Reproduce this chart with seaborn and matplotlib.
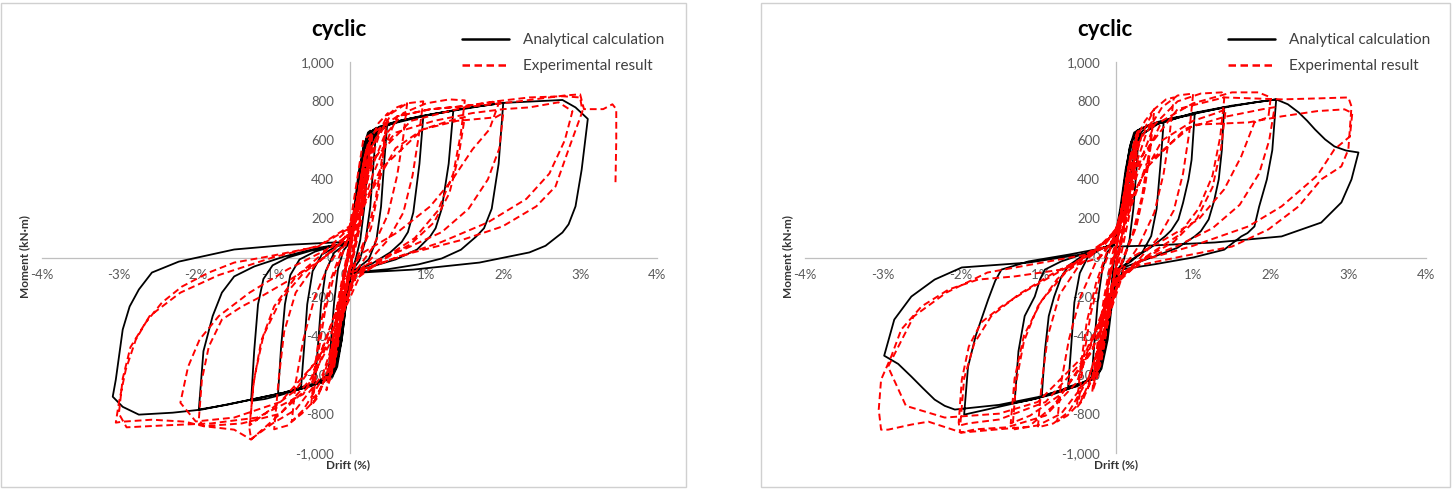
import matplotlib
matplotlib.use("Agg")
import matplotlib.pyplot as plt
import seaborn as sns
import pandas as pd
from matplotlib.lines import Line2D
from matplotlib.patches import Rectangle

# ---------------- data (drift %, moment kN·m) ----------------
x_ticks = [-4, -3, -2, -1, 0, 1, 2, 3, 4]
x_tick_labels = ["-4%", "-3%", "-2%", "-1%", "0%", "1%", "2%", "3%", "4%"]
y_ticks = [-1000, -800, -600, -400, -200, 0, 200, 400, 600, 800, 1000]
y_tick_labels = ["-1,000", "-800", "-600", "-400", "-200", "0", "200", "400", "600", "800", "1,000"]
series_names = ["Analytical calculation", "Experimental result"]
panel_title = "cyclic"

left_analytical = [
    (0, 0), (0.06, 200), (0.12, 400), (0.18, 560), (0.24, 640), (0.27, 650),
    (0.23, 450), (0.19, 250), (0.14, 90), (0.08, -10), (0.02, -75),
    (-0.04, -220), (-0.1, -420), (-0.16, -560), (-0.22, -610), (-0.28, -625),
    (-0.24, -430), (-0.2, -230), (-0.15, -60), (-0.08, 35), (0.0, 75),
    (0.06, 250), (0.12, 440), (0.19, 580), (0.26, 640), (0.35, 665),
    (0.31, 470), (0.27, 260), (0.21, 90), (0.13, -15), (0.02, -75),
    (-0.04, -220), (-0.1, -420), (-0.18, -570), (-0.27, -620), (-0.36, -640), (-0.45, -650),
    (-0.41, -450), (-0.37, -240), (-0.31, -70), (-0.2, 25), (-0.08, 60), (0.0, 75),
    (0.07, 250), (0.14, 450), (0.22, 590), (0.3, 650), (0.4, 672), (0.49, 682),
    (0.45, 480), (0.41, 260), (0.35, 90), (0.25, -10), (0.12, -50), (0.02, -75),
    (-0.05, -230), (-0.12, -430), (-0.2, -570), (-0.3, -625), (-0.45, -650), (-0.63, -665),
    (-0.59, -460), (-0.55, -240), (-0.48, -70), (-0.36, 15), (-0.18, 55), (0.0, 75),
    (0.08, 250), (0.16, 450), (0.25, 600), (0.35, 660), (0.5, 685), (0.7, 705), (0.96, 723),
    (0.91, 480), (0.83, 231), (0.76, 130), (0.68, 80), (0.53, 26), (0.3, -30), (0.02, -75),
    (-0.06, -240), (-0.14, -440), (-0.24, -590), (-0.36, -640), (-0.55, -665), (-0.75, -685), (-0.93, -700),
    (-0.89, -460), (-0.84, -240), (-0.77, -90), (-0.65, -10), (-0.45, 30), (-0.2, 60), (0.0, 75),
    (0.09, 250), (0.18, 450), (0.28, 610), (0.4, 665), (0.6, 695), (0.9, 722), (1.15, 740), (1.35, 752),
    (1.29, 480), (1.2, 250), (1.12, 150), (1.05, 108), (0.88, 41), (0.6, -10), (0.3, -45), (0.02, -75),
    (-0.07, -250), (-0.16, -450), (-0.27, -600), (-0.42, -645), (-0.65, -675), (-0.9, -705), (-1.1, -725), (-1.28, -735),
    (-1.24, -480), (-1.19, -240), (-1.12, -110), (-1.0, -40), (-0.8, 0), (-0.5, 35), (-0.2, 62), (0.0, 75),
    (0.1, 250), (0.2, 450), (0.3, 610), (0.45, 670), (0.7, 705), (1.0, 728), (1.35, 752), (1.7, 775), (2.0, 792),
    (1.94, 480), (1.85, 250), (1.75, 150), (1.65, 108), (1.45, 40), (1.2, -5), (0.9, -35), (0.5, -60), (0.02, -78),
    (-0.08, -260), (-0.18, -460), (-0.3, -610), (-0.45, -650), (-0.85, -692), (-1.28, -728), (-1.6, -755), (-1.96, -779),
    (-1.9, -480), (-1.78, -300), (-1.66, -180), (-1.5, -97), (-1.24, -46), (-0.85, 5), (-0.4, 50), (0.0, 75),
    (0.1, 250), (0.2, 450), (0.32, 620), (0.5, 680), (1.0, 728), (1.5, 765), (2.0, 792), (2.4, 800), (2.77, 807),
    (2.94, 769), (3.1, 710),
    (3.02, 450), (2.94, 262), (2.85, 170), (2.77, 128), (2.55, 60), (2.34, 26), (1.69, -26), (0.83, -62), (0.02, -80),
    (-0.08, -260), (-0.18, -460), (-0.3, -610), (-0.42, -640), (-0.85, -692), (-1.28, -728), (-1.92, -779),
    (-2.3, -795), (-2.74, -805), (-2.95, -765), (-3.08, -713),
    (-3.04, -626), (-2.95, -369), (-2.86, -251), (-2.74, -164), (-2.57, -77), (-2.22, -21), (-1.5, 41),
    (-0.8, 65), (-0.2, 77), (0.0, 80),
]

left_experimental = [
    (0, 0), (0.08, 200), (0.15, 400), (0.2, 520), (0.14, 300), (0.06, 80), (0.0, -50),
    (-0.08, -250), (-0.15, -450), (-0.2, -560), (-0.14, -330), (-0.06, -100), (0.0, 50),
    (0.1, 300), (0.18, 480), (0.25, 600), (0.3, 640), (0.24, 420), (0.16, 200), (0.06, 20),
    (-0.05, -150), (-0.15, -420), (-0.25, -620), (-0.3, -680), (-0.22, -420), (-0.14, -200), (-0.04, 0), (0.05, 150),
    (0.12, 330), (0.2, 500), (0.27, 620), (0.22, 400), (0.13, 180), (0.03, -20),
    (-0.08, -230), (-0.18, -470), (-0.27, -640), (-0.2, -400), (-0.11, -170), (0.02, 60),
    (0.09, 260), (0.16, 430), (0.22, 560), (0.17, 340), (0.1, 140), (0.01, -40),
    (-0.1, -300), (-0.19, -520), (-0.24, -600), (-0.18, -380), (-0.09, -130), (0.01, 90),
    (0.11, 330), (0.19, 500), (0.26, 590), (0.2, 380), (0.12, 160), (0.03, -10),
    (-0.07, -210), (-0.16, -440), (-0.23, -590), (-0.17, -360), (-0.1, -150), (0.0, 30),
    (0.15, 400), (0.25, 580), (0.38, 690), (0.5, 740), (0.45, 560), (0.38, 350), (0.28, 150), (0.12, 0), (0.0, -100),
    (-0.15, -380), (-0.3, -600), (-0.42, -720), (-0.5, -760), (-0.45, -560), (-0.37, -330), (-0.25, -120), (-0.1, 40), (0.05, 150),
    (0.17, 390), (0.28, 560), (0.4, 650), (0.48, 690), (0.42, 500), (0.34, 300), (0.22, 110), (0.08, -20),
    (-0.1, -330), (-0.25, -570), (-0.38, -680), (-0.47, -720), (-0.41, -500), (-0.32, -280), (-0.2, -90), (-0.05, 60),
    (0.2, 420), (0.35, 620), (0.5, 730), (0.62, 770), (0.75, 790), (0.7, 620), (0.62, 420), (0.5, 220), (0.3, 50), (0.1, -60),
    (-0.1, -300), (-0.25, -560), (-0.45, -730), (-0.62, -800), (-0.75, -840), (-0.7, -640), (-0.6, -420), (-0.45, -200), (-0.25, -20), (0.0, 100),
    (0.2, 400), (0.38, 620), (0.55, 740), (0.75, 790), (0.96, 800), (0.9, 620), (0.82, 420), (0.7, 230), (0.5, 90), (0.25, -20), (0.05, -100),
    (-0.15, -380), (-0.35, -620), (-0.6, -780), (-0.8, -860), (-0.98, -880), (-0.92, -620), (-0.85, -380), (-0.7, -180), (-0.45, -40), (-0.15, 60), (0.05, 150),
    (0.25, 420), (0.45, 620), (0.7, 740), (1.0, 790), (1.3, 810), (1.5, 805), (1.45, 640), (1.35, 430), (1.15, 240), (0.85, 100), (0.5, 10), (0.15, -80),
    (-0.1, -300), (-0.35, -600), (-0.7, -780), (-1.0, -850), (-1.28, -930), (-1.3, -880), (-1.25, -650), (-1.15, -430), (-0.98, -250), (-0.7, -100), (-0.35, 20), (0.0, 120),
    (0.3, 350), (0.6, 560), (0.95, 656), (1.3, 700), (1.5, 720), (1.42, 520), (1.3, 330), (1.1, 180), (0.8, 70), (0.4, -20), (0.05, -120),
    (-0.3, -450), (-0.7, -680), (-1.1, -800), (-1.3, -860), (-1.24, -620), (-1.12, -400), (-0.9, -220), (-0.6, -80), (-0.2, 40), (0.05, 130),
    (0.3, 420), (0.62, 723), (1.05, 760), (1.48, 775), (1.95, 800), (1.82, 656), (1.6, 554), (1.34, 400), (1.05, 262), (0.62, 128), (0.18, 26), (0.0, -60),
    (-0.2, -300), (-0.5, -620), (-0.9, -800), (-1.4, -850), (-1.9, -864), (-1.96, -831), (-1.92, -626), (-1.83, -456), (-1.66, -318),
    (-1.4, -251), (-1.15, -200), (-0.8, -120), (-0.4, -20), (-0.1, 80), (0.1, 200),
    (0.4, 450), (0.95, 656), (1.4, 700), (1.9, 718), (2.0, 740), (1.95, 560), (1.8, 400), (1.55, 250), (1.2, 130), (0.7, 40), (0.2, -40), (-0.05, -150),
    (-0.4, -520), (-0.9, -740), (-1.5, -820), (-2.0, -840), (-2.2, -744), (-2.1, -560), (-1.95, -420), (-1.7, -300), (-1.3, -180), (-0.8, -60), (-0.3, 40), (0.0, 150),
    (0.18, 605), (0.62, 723), (1.05, 759), (1.48, 775), (1.9, 800), (2.34, 820), (2.77, 826), (3.0, 820), (3.03, 749),
    (2.85, 554), (2.68, 364), (2.43, 262), (1.99, 159), (1.48, 92), (0.83, 26), (0.27, -46), (0.01, -77),
    (-0.2, -350), (-0.5, -650), (-0.9, -800), (-1.28, -933), (-1.5, -882), (-1.9, -864), (-2.14, -841), (-2.57, -831), (-2.95, -841), (-3.04, -846),
    (-3.0, -744), (-2.91, -574), (-2.78, -421), (-2.65, -333), (-2.44, -231), (-2.18, -149), (-1.83, -77), (-1.5, -26), (-1.06, 5), (-0.41, 56), (0.0, 150),
    (0.2, 450), (0.6, 640), (1.1, 700), (1.6, 740), (2.0, 760), (2.34, 769), (2.72, 795), (2.9, 749), (2.8, 600), (2.6, 430), (2.3, 300),
    (1.8, 180), (1.2, 80), (0.6, 0), (0.1, -80),
    (-0.2, -400), (-0.6, -700), (-1.2, -820), (-1.8, -850), (-2.4, -860), (-2.9, -870), (-3.0, -800), (-2.95, -620), (-2.85, -460),
    (-2.6, -300), (-2.2, -180), (-1.7, -90), (-1.0, 0), (-0.4, 60), (0.0, 160),
    (0.3, 500), (0.8, 700), (1.5, 770), (2.2, 800), (2.8, 830), (3.0, 836), (3.05, 760), (3.3, 760), (3.42, 785), (3.47, 760),
    (3.47, 600), (3.46, 385),
]

right_analytical = [
    (0, 0), (0.06, 200), (0.12, 400), (0.18, 560), (0.24, 640), (0.3, 655),
    (0.27, 450), (0.23, 250), (0.18, 90), (0.1, -20), (0.03, -62),
    (-0.04, -220), (-0.1, -420), (-0.18, -570), (-0.25, -615), (-0.31, -626),
    (-0.27, -430), (-0.23, -230), (-0.17, -60), (-0.1, 30), (-0.02, 65),
    (0.06, 250), (0.13, 450), (0.2, 590), (0.28, 650), (0.45, 680), (0.62, 692),
    (0.58, 480), (0.53, 250), (0.46, 110), (0.35, 30), (0.2, -20), (0.03, -62),
    (-0.05, -230), (-0.12, -430), (-0.2, -580), (-0.3, -625), (-0.45, -645), (-0.61, -662),
    (-0.57, -450), (-0.53, -230), (-0.46, -80), (-0.36, 0), (-0.2, 45), (-0.02, 65),
    (0.07, 250), (0.14, 450), (0.22, 600), (0.32, 660), (0.55, 695), (0.8, 718), (1.02, 733),
    (0.98, 500), (0.94, 400), (0.87, 280), (0.81, 195), (0.72, 140), (0.64, 109), (0.45, 50), (0.25, 0), (0.03, -62),
    (-0.06, -240), (-0.14, -440), (-0.24, -595), (-0.4, -640), (-0.7, -680), (-0.95, -713),
    (-0.91, -480), (-0.86, -300), (-0.79, -200), (-0.7, -100), (-0.6, -40), (-0.4, 15), (-0.2, 45), (-0.02, 65),
    (0.08, 250), (0.16, 450), (0.26, 610), (0.4, 670), (0.7, 712), (1.0, 735), (1.2, 752), (1.4, 770),
    (1.37, 550), (1.33, 400), (1.27, 290), (1.2, 195), (1.1, 135), (1.02, 108), (0.8, 50), (0.5, 5), (0.25, -30), (0.03, -62),
    (-0.07, -250), (-0.16, -450), (-0.27, -605), (-0.45, -650), (-0.8, -700), (-1.1, -730), (-1.3, -744),
    (-1.25, -480), (-1.17, -300), (-1.04, -200), (-0.97, -110), (-0.91, -62), (-0.7, -20), (-0.4, 20), (-0.02, 65),
    (0.1, 250), (0.2, 450), (0.3, 615), (0.5, 680), (1.0, 738), (1.5, 775), (1.8, 795), (2.07, 810),
    (2.02, 550), (1.95, 400), (1.85, 260), (1.79, 159), (1.7, 125), (1.62, 108), (1.4, 40), (1.0, 0), (0.5, -35), (0.1, -60),
    (-0.08, -260), (-0.18, -460), (-0.3, -620), (-0.5, -660), (-1.0, -720), (-1.5, -765), (-1.95, -805),
    (-1.9, -560), (-1.8, -400), (-1.64, -215), (-1.55, -120), (-1.47, -62), (-1.12, -20), (-0.6, 15), (-0.27, 40), (-0.02, 65),
    (0.1, 250), (0.2, 450), (0.32, 625), (0.55, 685), (1.0, 740), (1.5, 778), (2.07, 810),
    (2.22, 785), (2.36, 743), (2.47, 700), (2.57, 656), (2.7, 605), (2.82, 569), (2.97, 548), (3.13, 538),
    (3.04, 400), (2.91, 282), (2.65, 179), (2.14, 108), (1.28, 77), (0.5, 62), (0.0, 56),
    (-0.08, -250), (-0.18, -460), (-0.3, -620), (-0.6, -668), (-1.0, -715), (-1.5, -755), (-2.07, -779),
    (-2.2, -760), (-2.33, -728), (-2.48, -670), (-2.63, -610), (-2.8, -545), (-2.98, -503),
    (-2.85, -318), (-2.63, -200), (-2.33, -113), (-1.98, -51), (-1.12, -26), (-0.27, 26), (-0.1, 60),
]

right_experimental = [
    (0, 0), (0.07, 200), (0.14, 400), (0.2, 540), (0.15, 330), (0.08, 120), (0.01, -40),
    (-0.07, -240), (-0.14, -440), (-0.2, -560), (-0.15, -340), (-0.08, -120), (0.0, 40),
    (0.09, 280), (0.17, 470), (0.25, 610), (0.3, 660), (0.25, 440), (0.18, 220), (0.08, 30),
    (-0.04, -150), (-0.14, -420), (-0.24, -620), (-0.3, -690), (-0.23, -430), (-0.15, -210), (-0.05, 0), (0.05, 160),
    (0.13, 350), (0.21, 520), (0.28, 640), (0.22, 420), (0.12, 190), (0.02, -20),
    (-0.09, -250), (-0.19, -480), (-0.28, -650), (-0.21, -410), (-0.12, -180), (0.02, 70),
    (0.1, 300), (0.18, 470), (0.24, 580), (0.18, 360), (0.1, 150), (0.0, -30),
    (-0.1, -310), (-0.18, -520), (-0.25, -610), (-0.19, -390), (-0.1, -140), (0.01, 80),
    (0.12, 340), (0.2, 510), (0.27, 600), (0.21, 390), (0.13, 170), (0.03, -10),
    (-0.08, -220), (-0.17, -450), (-0.24, -600), (-0.18, -370), (-0.1, -150), (0.0, 30),
    (0.15, 420), (0.26, 600), (0.38, 700), (0.5, 760), (0.45, 560), (0.38, 360), (0.27, 160), (0.12, 10), (0.0, -110),
    (-0.15, -390), (-0.3, -610), (-0.42, -730), (-0.5, -770), (-0.45, -560), (-0.37, -330), (-0.25, -130), (-0.1, 40), (0.05, 160),
    (0.17, 400), (0.28, 570), (0.4, 660), (0.48, 700), (0.42, 510), (0.34, 310), (0.22, 120), (0.08, -20),
    (-0.1, -340), (-0.25, -580), (-0.38, -690), (-0.47, -730), (-0.41, -510), (-0.32, -290), (-0.2, -100), (-0.05, 60),
    (0.2, 430), (0.35, 640), (0.5, 760), (0.65, 810), (0.75, 820), (0.7, 640), (0.62, 430), (0.5, 230), (0.3, 60), (0.1, -60),
    (-0.1, -300), (-0.25, -560), (-0.45, -740), (-0.62, -810), (-0.75, -840), (-0.7, -640), (-0.6, -420), (-0.45, -200), (-0.25, -20), (0.0, 110),
    (0.2, 400), (0.4, 640), (0.6, 770), (0.8, 830), (1.0, 840), (0.95, 640), (0.87, 430), (0.75, 240), (0.55, 100), (0.3, -10), (0.05, -100),
    (-0.15, -380), (-0.35, -620), (-0.6, -790), (-0.8, -850), (-1.0, -870), (-0.95, -640), (-0.87, -400), (-0.72, -190), (-0.47, -40), (-0.15, 60), (0.05, 160),
    (0.25, 420), (0.5, 680), (0.8, 800), (1.1, 840), (1.37, 846), (1.4, 810), (1.35, 620), (1.25, 420), (1.07, 250), (0.8, 110), (0.45, 20), (0.1, -80),
    (-0.1, -320), (-0.35, -620), (-0.7, -800), (-1.0, -860), (-1.3, -880), (-1.32, -840), (-1.28, -640), (-1.18, -430), (-1.0, -250), (-0.75, -110), (-0.4, 10), (0.0, 120),
    (0.3, 380), (0.6, 600), (1.0, 700), (1.3, 740), (1.42, 760), (1.36, 560), (1.25, 360), (1.05, 200), (0.75, 80), (0.35, -10), (0.05, -120),
    (-0.3, -470), (-0.7, -700), (-1.1, -810), (-1.35, -850), (-1.3, -620), (-1.18, -400), (-0.95, -220), (-0.65, -80), (-0.25, 40), (0.05, 140),
    (0.3, 450), (0.6, 700), (1.0, 790), (1.5, 846), (1.84, 846), (2.0, 820), (1.97, 720), (1.79, 692), (1.62, 518), (1.4, 349), (1.07, 195),
    (0.63, 92), (0.2, 0), (0.0, -80),
    (-0.2, -330), (-0.5, -640), (-0.9, -810), (-1.4, -870), (-1.8, -880), (-2.0, -897), (-2.02, -846), (-1.98, -626), (-1.89, -456),
    (-1.73, -333), (-1.47, -251), (-1.15, -170), (-0.8, -90), (-0.4, 0), (-0.1, 90), (0.1, 200),
    (0.4, 460), (0.9, 660), (1.4, 720), (1.9, 760), (2.05, 770), (1.98, 600), (1.85, 430), (1.6, 270), (1.25, 150), (0.8, 60), (0.3, -20), (0.0, -130),
    (-0.4, -520), (-0.9, -740), (-1.5, -830), (-1.9, -850), (-2.0, -860), (-1.95, -620), (-1.82, -440), (-1.6, -300), (-1.25, -190),
    (-0.8, -80), (-0.3, 20), (0.0, 140),
    (0.3, 500), (0.8, 760), (1.4, 820), (2.14, 810), (2.6, 815), (3.0, 820), (3.04, 774), (3.0, 554), (2.91, 467), (2.65, 400),
    (2.36, 262), (1.97, 144), (1.5, 56), (0.85, 5), (0.3, -40), (0.0, -110),
    (-0.3, -480), (-0.8, -760), (-1.12, -867), (-1.56, -882), (-1.98, -897), (-2.41, -841), (-2.63, -856), (-2.93, -882), (-3.02, -882),
    (-3.05, -779), (-3.02, -626), (-2.89, -508), (-2.76, -369), (-2.5, -251), (-2.15, -164), (-1.77, -113), (-1.3, -97), (-0.7, -62), (-0.2, 0), (0.1, 150),
    (0.4, 480), (1.0, 680), (1.71, 692), (2.14, 723), (2.6, 750), (2.95, 759), (3.05, 740), (3.02, 620), (2.82, 554), (2.6, 420),
    (2.14, 262), (1.71, 159), (1.0, 60), (0.3, -20), (0.0, -120),
    (-0.4, -500), (-1.0, -740), (-1.5, -800), (-2.2, -820), (-2.7, -760), (-2.93, -560), (-2.6, -302), (-2.18, -180), (-1.65, -77),
    (-1.0, -30), (-0.3, 20), (0.0, 80),
]

# ---------------- style ----------------
sns.set_theme(style="white")
plt.rcParams["font.family"] = ["Lato", "DejaVu Sans"]

W, H = 1452, 495
fig = plt.figure(figsize=(W / 100, H / 100), dpi=100)

def fx(px):
    return px / W

def fy(py):
    return 1 - py / H

# panel frames
for (x0, x1) in [(1, 686), (761, 1450)]:
    fig.patches.append(Rectangle((fx(x0), fy(487)), fx(x1 - x0), (487 - 3) / H,
                                 transform=fig.transFigure, fill=False,
                                 edgecolor="#d0d0d0", linewidth=1.0))

panels = [
    dict(left=42, right=657, data=(left_analytical, left_experimental),
         title_x=339, ylab_x=25, xlab_x=348, leg_x=462),
    dict(left=805, right=1426, data=(right_analytical, right_experimental),
         title_x=1105, ylab_x=788, xlab_x=1116, leg_x=1228),
]

top_px, bot_px = 62.3, 452.7
for p in panels:
    ax = fig.add_axes([fx(p["left"]), fy(bot_px), fx(p["right"] - p["left"]), (bot_px - top_px) / H])
    ax.set_facecolor("none")
    ana, exp = p["data"]
    df_a = pd.DataFrame(ana, columns=["drift", "moment"])
    df_e = pd.DataFrame(exp, columns=["drift", "moment"])
    sns.lineplot(data=df_a, x="drift", y="moment", sort=False, estimator=None,
                 color="black", linewidth=1.3, ax=ax, zorder=3)
    sns.lineplot(data=df_e, x="drift", y="moment", sort=False, estimator=None,
                 color="#ff0000", linewidth=1.4, ax=ax, zorder=4)
    ax.lines[-1].set_dashes((3.5, 2.0))

    ax.set_xlim(-4, 4)
    ax.set_ylim(-1000, 1000)
    ax.set_xticks(x_ticks)
    ax.set_xticklabels(x_tick_labels)
    ax.set_yticks(y_ticks)
    ax.set_yticklabels(y_tick_labels)
    for s in ["top", "right"]:
        ax.spines[s].set_visible(False)
    ax.spines["left"].set_position(("data", 0))
    ax.spines["bottom"].set_position(("data", 0))
    for s in ["left", "bottom"]:
        ax.spines[s].set_color("#bfbfbf")
        ax.spines[s].set_linewidth(0.9)
        ax.spines[s].set_zorder(1)
    ax.tick_params(axis="both", length=0, labelsize=9.5, labelcolor="#595959")
    ax.tick_params(axis="x", pad=8.0)
    ax.tick_params(axis="y", pad=11.0)
    ax.set_xlabel("")
    ax.set_ylabel("")
    ax.grid(False)

    fig.text(fx(p["title_x"]), fy(30), panel_title, ha="center", va="center",
             fontsize=16, fontweight="bold", color="black")
    fig.text(fx(p["ylab_x"]), fy(257), "Moment (kN·m)", rotation=90, ha="center",
             va="center", fontsize=8.5, fontweight="bold", color="#333333")
    fig.text(fx(p["xlab_x"]), fy(465), "Drift (%)", ha="center", va="center",
             fontsize=8.5, fontweight="bold", color="#333333")

    handles = [Line2D([], [], color="black", linewidth=1.8),
               Line2D([], [], color="#ff0000", linewidth=1.8, dashes=(3.0, 1.8))]
    leg = ax.legend(handles, series_names, loc="upper left",
                    bbox_to_anchor=(fx(p["leg_x"]), fy(33)), bbox_transform=fig.transFigure,
                    frameon=False, fontsize=11, handlelength=3.1, handletextpad=0.9,
                    labelspacing=0.8, borderpad=0, borderaxespad=0)
    for t in leg.get_texts():
        t.set_color("#404040")

fig.savefig("out.png", dpi=100)
